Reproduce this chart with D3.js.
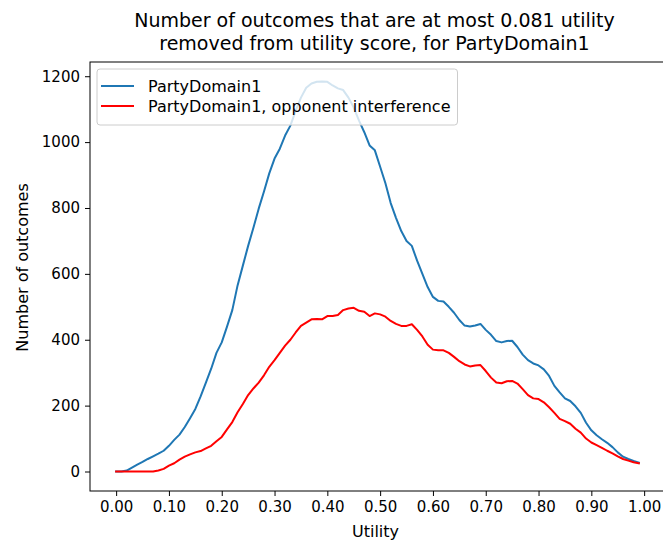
<!DOCTYPE html>
<html>
<head>
<meta charset="utf-8">
<script src="https://cdn.jsdelivr.net/npm/d3@7"></script>
<style>
  html, body { margin: 0; padding: 0; background: #fff; }
  svg { display: block; font-family: "DejaVu Sans", sans-serif; }
</style>
</head>
<body>
<svg id="chart" width="663" height="543"></svg>
<script>
// Utility bins (0.00 .. 0.99, step 0.01)
const utility = [
  0.00,0.01,0.02,0.03,0.04,0.05,0.06,0.07,0.08,0.09,
  0.10,0.11,0.12,0.13,0.14,0.15,0.16,0.17,0.18,0.19,
  0.20,0.21,0.22,0.23,0.24,0.25,0.26,0.27,0.28,0.29,
  0.30,0.31,0.32,0.33,0.34,0.35,0.36,0.37,0.38,0.39,
  0.40,0.41,0.42,0.43,0.44,0.45,0.46,0.47,0.48,0.49,
  0.50,0.51,0.52,0.53,0.54,0.55,0.56,0.57,0.58,0.59,
  0.60,0.61,0.62,0.63,0.64,0.65,0.66,0.67,0.68,0.69,
  0.70,0.71,0.72,0.73,0.74,0.75,0.76,0.77,0.78,0.79,
  0.80,0.81,0.82,0.83,0.84,0.85,0.86,0.87,0.88,0.89,
  0.90,0.91,0.92,0.93,0.94,0.95,0.96,0.97,0.98,0.99
];

// Outcome counts, own utility only
const partyDomain = [
  0,0,3,12,21,29,38,46,54,63,
  78,96,112,135,162,190,228,270,312,360,
  392,440,490,565,625,685,740,798,850,905,
  950,980,1020,1050,1095,1135,1165,1178,1183,1184,
  1183,1172,1163,1158,1135,1105,1065,1030,990,975,
  925,875,815,770,730,700,685,640,600,560,
  530,518,516,500,482,460,443,440,443,448,
  430,415,396,392,396,397,378,355,338,328,
  322,310,290,260,240,222,214,198,178,148,
  125,110,98,87,74,58,45,38,32,27
];

// Outcome counts with opponent interference
const opponentInterference = [
  0,0,0,0,0,0,0,0,3,8,
  18,25,36,45,52,58,62,70,78,92,
  105,128,150,180,205,232,252,270,292,318,
  338,360,382,400,422,442,452,462,463,462,
  472,472,475,490,495,497,488,485,472,480,
  477,470,457,448,442,442,447,430,410,385,
  370,368,368,360,348,335,325,319,322,323,
  305,285,270,268,274,275,267,250,232,222,
  220,210,195,178,160,153,145,130,118,100,
  88,80,72,63,55,46,38,33,28,25
];

const xTicks = [0,0.1,0.2,0.3,0.4,0.5,0.6,0.7,0.8,0.9,1.0];
const yTicks = [0,200,400,600,800,1000,1200];
const seriesNames = ["PartyDomain1", "PartyDomain1, opponent interference"];
const seriesColors = ["#1f77b4", "#ff0000"];

const svg = d3.select("#chart");
const plot = { left: 90, top: 62, right: 665, bottom: 491 };

// Data limits padded by 5% on each side
const xMin = d3.min(utility), xMax = d3.max(utility);
const xPad = (xMax - xMin) * 0.05;
const yMax = d3.max(partyDomain.concat(opponentInterference));
const yPad = yMax * 0.05;

const x = d3.scaleLinear().domain([xMin - xPad, xMax + xPad]).range([plot.left, plot.right]);
const y = d3.scaleLinear().domain([-yPad, yMax + yPad]).range([plot.bottom, plot.top]);

// Lines
const line = d3.line().x((d, i) => x(utility[i])).y(d => y(d));
[partyDomain, opponentInterference].forEach((s, k) => {
  svg.append("path")
    .datum(s)
    .attr("fill", "none")
    .attr("stroke", seriesColors[k])
    .attr("stroke-width", 2)
    .attr("stroke-linejoin", "round")
    .attr("stroke-linecap", "square")
    .attr("d", line);
});

// Axes
const tickFont = 15;
const labelFont = 16;
const xAxis = svg.append("g")
  .attr("transform", `translate(0,${plot.bottom})`)
  .call(d3.axisBottom(x).tickValues(xTicks).tickFormat(d3.format(".2f")).tickSize(5).tickPadding(5));
const yAxis = svg.append("g")
  .attr("transform", `translate(${plot.left},0)`)
  .call(d3.axisLeft(y).tickValues(yTicks).tickFormat(d3.format("d")).tickSize(5).tickPadding(5));

[xAxis, yAxis].forEach(g => {
  g.select(".domain").remove();
  g.selectAll("line").attr("stroke", "#000").attr("stroke-width", 1);
  g.selectAll("text").attr("font-family", "DejaVu Sans").attr("font-size", tickFont).attr("fill", "#000");
});

// Frame
svg.append("rect")
  .attr("x", plot.left).attr("y", plot.top)
  .attr("width", plot.right - plot.left).attr("height", plot.bottom - plot.top)
  .attr("fill", "none").attr("stroke", "#000").attr("stroke-width", 1);

// Axis labels
svg.append("text")
  .attr("x", (plot.left + plot.right) / 2 - 2).attr("y", 537)
  .attr("text-anchor", "middle").attr("font-size", labelFont)
  .text("Utility");
svg.append("text")
  .attr("transform", `translate(28,${(plot.top + plot.bottom) / 2 - 9}) rotate(-90)`)
  .attr("text-anchor", "middle").attr("font-size", labelFont)
  .text("Number of outcomes");

// Title
const titleX = (plot.left + plot.right) / 2 - 3;
const title = svg.append("text")
  .attr("text-anchor", "middle")
  .attr("font-size", 19);
title.append("tspan").attr("x", titleX).attr("y", 27)
  .text("Number of outcomes that are at most 0.081 utility");
title.append("tspan").attr("x", titleX).attr("y", 50)
  .text("removed from utility score, for PartyDomain1");

// Legend
const legend = svg.append("g");
const legendRect = legend.append("rect")
  .attr("x", 97).attr("y", 69).attr("rx", 3).attr("ry", 3)
  .attr("height", 56)
  .attr("fill", "#fff").attr("fill-opacity", 0.8)
  .attr("stroke", "#cccccc").attr("stroke-width", 1);
let maxW = 0;
seriesNames.forEach((name, k) => {
  const cy = 86 + k * 20;
  legend.append("line")
    .attr("x1", 101).attr("x2", 134).attr("y1", cy).attr("y2", cy)
    .attr("stroke", seriesColors[k]).attr("stroke-width", 2);
  const t = legend.append("text")
    .attr("x", 148).attr("y", cy + 6)
    .attr("font-size", labelFont)
    .text(name);
  maxW = Math.max(maxW, t.node().getComputedTextLength());
});
legendRect.attr("width", 148 + maxW + 7 - 97);
</script>
</body>
</html>
